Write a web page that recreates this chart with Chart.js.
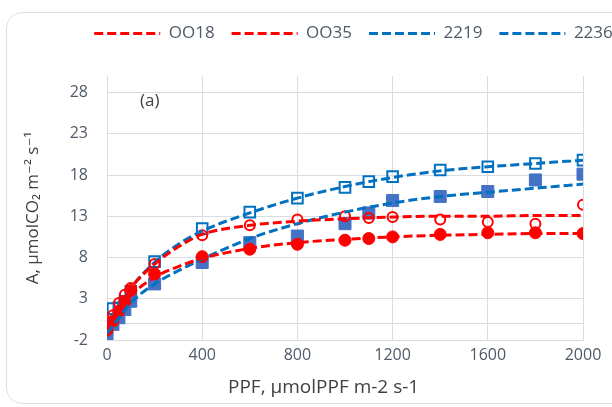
<!DOCTYPE html>
<html>
<head>
<meta charset="utf-8">
<script src="https://cdn.jsdelivr.net/npm/chart.js"></script>
<style>
  html, body { margin: 0; padding: 0; background: #fff; overflow: hidden; }
  #wrap { position: relative; width: 612px; height: 407px; overflow: hidden; }
  #frame { position: absolute; left: 6px; top: 12px; width: 720px; height: 390px;
           border: 1.5px solid #dce0e5; border-radius: 16px; }
  #chart { position: absolute; left: 0; top: 0; }
</style>
</head>
<body>
<div id="wrap">
  <div id="frame"></div>
  <canvas id="chart" width="707" height="407"></canvas>
</div>
<script>
// measured points (PPF)
const ppf = [0, 25, 50, 75, 100, 200, 400, 600, 800, 1000, 1100, 1200, 1400, 1600, 1800, 2000];
const oo18 = [-0.8, 0.3, 1.5, 2.7, 4.0, 6.0, 8.1, 9.0, 9.6, 10.1, 10.3, 10.5, 10.8, 11.0, 11.0, 10.9];
const oo35 = [-0.5, 1.0, 2.5, 3.5, 4.3, 7.2, 10.7, 11.9, 12.6, 13.0, 12.8, 12.9, 12.6, 12.3, 12.1, 14.4];
const v2219 = [-1.3, -0.1, 0.7, 1.7, 2.7, 4.8, 7.4, 9.8, 10.6, 12.1, 13.4, 14.9, 15.4, 16.0, 17.4, 18.1];
const v2236 = [-0.7, 1.8, 1.9, 2.7, 3.9, 7.5, 11.5, 13.5, 15.2, 16.5, 17.2, 17.8, 18.6, 19.0, 19.4, 19.8];

// fitted curves
const fitPpf = [0, 50, 100, 200, 300, 400, 600, 800, 1000, 1200, 1400, 1600, 1800, 2000];
const fitOo18 = [-0.6, 1.6, 3.4, 5.6, 6.9, 7.9, 9.1, 9.8, 10.2, 10.5, 10.7, 10.8, 10.9, 10.9];
const fitOo35 = [-0.5, 2.0, 4.3, 7.2, 9.3, 10.8, 11.9, 12.4, 12.7, 12.9, 13.0, 13.0, 13.1, 13.1];
const fit2219 = [-1.2, 0.7, 2.5, 4.8, 6.4, 7.8, 10.3, 12.1, 13.5, 14.6, 15.4, 15.9, 16.4, 16.9];
const fit2236 = [-0.5, 2.0, 4.3, 7.4, 9.6, 11.2, 13.4, 15.2, 16.6, 17.7, 18.5, 19.0, 19.4, 19.8];

const seriesNames = ['OO18', 'OO35', '2219', '2236'];
const yTicks = [-2, 3, 8, 13, 18, 23, 28];
const xTitle = 'PPF, μmolPPF m-2 s-1';
const yTitle = 'A, μmolCO₂ m⁻² s⁻¹';

const red = '#ff0000';
const blue = '#0070c0';
const fillBlue = '#4472c4';
const gridColor = '#d9dde3';
const textColor = '#4f5a68';
const fontFamily = '"Open Sans", "DejaVu Sans", sans-serif';

const toPoints = (xs, ys) => xs.map((x, i) => ({ x: x, y: ys[i] }));

const fitLine = (label, ys, color) => ({
  label: label,
  data: toPoints(fitPpf, ys),
  showLine: true,
  borderColor: color,
  backgroundColor: color,
  borderWidth: 3,
  borderDash: [9, 4],
  cubicInterpolationMode: 'monotone',
  pointRadius: 0,
  pointHoverRadius: 0,
  fill: false
});

const marks = (label, ys, style, color, filled, radius) => ({
  label: label,
  data: toPoints(ppf, ys),
  showLine: false,
  pointStyle: style,
  pointRadius: radius,
  pointHoverRadius: radius,
  pointBorderWidth: filled ? 1 : 2,
  pointBorderColor: color,
  pointBackgroundColor: filled ? color : 'rgba(0,0,0,0)'
});

// push the plot down below the legend
const legendGap = {
  id: 'legendGap',
  beforeInit(chart) {
    const fit = chart.legend.fit;
    chart.legend.fit = function () {
      fit.call(this);
      this.height = 68;
    };
  }
};

const extraText = {
  id: 'extraText',
  afterDraw(chart) {
    const { ctx, scales: { x, y } } = chart;
    ctx.save();
    ctx.fillStyle = '#404040';
    ctx.textAlign = 'center';
    ctx.textBaseline = 'middle';
    ctx.font = '17px ' + fontFamily;
    ctx.fillText('(a)', x.getPixelForValue(180), y.getPixelForValue(26.9));
    ctx.font = '19px ' + fontFamily;
    ctx.fillText(xTitle, x.getPixelForValue(910), y.bottom + 48);
    ctx.restore();
  }
};

new Chart(document.getElementById('chart'), {
  type: 'scatter',
  data: {
    datasets: [
      fitLine(seriesNames[0], fitOo18, red),
      fitLine(seriesNames[1], fitOo35, red),
      fitLine(seriesNames[2], fit2219, blue),
      fitLine(seriesNames[3], fit2236, blue),
      marks(seriesNames[0], oo18, 'circle', red, true, 6),
      marks(seriesNames[1], oo35, 'circle', red, false, 5),
      marks(seriesNames[2], v2219, 'rect', fillBlue, true, 8.5),
      marks(seriesNames[3], v2236, 'rect', blue, false, 7.5)
    ]
  },
  options: {
    responsive: false,
    animation: false,
    layout: { padding: { top: 8, left: 0, right: 0, bottom: 0 } },
    plugins: {
      tooltip: { enabled: false },
      legend: {
        position: 'top',
        labels: {
          usePointStyle: true,
          pointStyleWidth: 66,
          padding: 17,
          color: textColor,
          font: { family: fontFamily, size: 17 },
          generateLabels(chart) {
            const items = Chart.defaults.plugins.legend.labels.generateLabels(chart);
            return items.filter(it => it.datasetIndex < 4).map(it => {
              const ds = chart.data.datasets[it.datasetIndex];
              return Object.assign(it, {
                pointStyle: 'line',
                lineDash: ds.borderDash,
                lineWidth: ds.borderWidth,
                strokeStyle: ds.borderColor
              });
            });
          }
        }
      }
    },
    scales: {
      x: {
        type: 'linear',
        min: 0,
        max: 2000,
        afterFit(s) { s.height = 67; },
        grid: { color: gridColor, drawTicks: false },
        border: { color: gridColor },
        ticks: {
          stepSize: 400,
          padding: 6,
          color: textColor,
          font: { family: fontFamily, size: 16 },
          callback: v => String(v)
        }
      },
      y: {
        type: 'linear',
        min: -2,
        max: 30,
        afterBuildTicks(s) {
          s.ticks = yTicks.concat([0]).sort((a, b) => a - b).map(v => ({ value: v }));
        },
        afterFit(s) { s.width = 107; },
        grid: { color: gridColor, drawTicks: false },
        border: { color: gridColor },
        ticks: {
          padding: 19,
          color: textColor,
          font: { family: fontFamily, size: 16 },
          callback: v => (v === 0 ? '' : String(v))
        },
        title: {
          display: true,
          text: yTitle,
          color: '#404040',
          padding: { top: 23, bottom: 0 },
          font: { family: fontFamily, size: 17 }
        }
      },
      pad: {
        type: 'linear',
        position: 'right',
        display: true,
        grid: { display: false },
        border: { display: false },
        ticks: { display: false },
        afterFit(s) { s.width = 124; }
      }
    }
  },
  plugins: [legendGap, extraText]
});
</script>
</body>
</html>
